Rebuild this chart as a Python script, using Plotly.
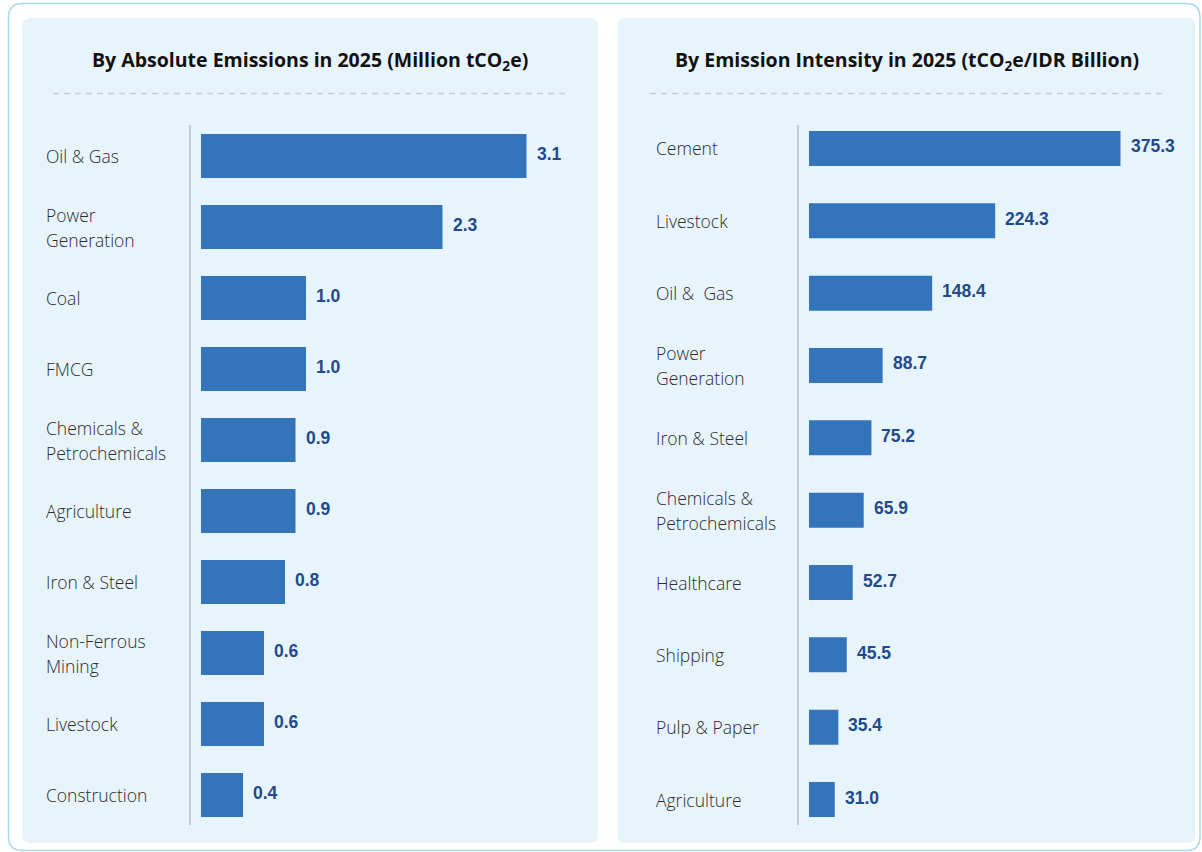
import plotly.graph_objects as go

# ---------------- data ----------------
abs_categories = ["Oil & Gas", "Power<br>Generation", "Coal", "FMCG",
                  "Chemicals &<br>Petrochemicals", "Agriculture", "Iron & Steel",
                  "Non-Ferrous<br>Mining", "Livestock", "Construction"]
abs_values = [3.1, 2.3, 1.0, 1.0, 0.9, 0.9, 0.8, 0.6, 0.6, 0.4]

int_categories = ["Cement", "Livestock", "Oil &\u00a0 Gas", "Power<br>Generation",
                  "Iron & Steel", "Chemicals &<br>Petrochemicals", "Healthcare",
                  "Shipping", "Pulp & Paper", "Agriculture"]
int_values = [375.3, 224.3, 148.4, 88.7, 75.2, 65.9, 52.7, 45.5, 35.4, 31.0]

title_left = "By Absolute Emissions in 2025 (Million tCO<sub>2</sub>e)"
title_right = "By Emission Intensity in 2025 (tCO<sub>2</sub>e/IDR Billion)"

# ---------------- layout helpers ----------------
W, H = 1202, 852
def px(x):
    return x / W
def py(y):
    return 1 - y / H

BAR = "#3374BB"
PANEL = "#E8F4FB"
LABEL_FONT = dict(family="Open Sans, Noto Sans, sans-serif", size=17.5, color="#2b2b2b", weight=300)
VALUE_FONT = dict(family="Liberation Sans, Arial, sans-serif", size=17.5, color="#1F4A8C", weight=700)
TITLE_FONT = dict(family="Open Sans, Noto Sans, sans-serif", size=19.5, color="#111111")

def rrect(x0, y0, x1, y1, r):
    X0, X1 = px(x0), px(x1)
    Y0, Y1 = py(y0), py(y1)
    rx, ry = r / W, r / H
    return (f"M {X0+rx},{Y0} L {X1-rx},{Y0} Q {X1},{Y0} {X1},{Y0-ry} "
            f"L {X1},{Y1+ry} Q {X1},{Y1} {X1-rx},{Y1} L {X0+rx},{Y1} "
            f"Q {X0},{Y1} {X0},{Y1+ry} L {X0},{Y0-ry} Q {X0},{Y0} {X0+rx},{Y0} Z")

fig = go.Figure()

fig.add_trace(go.Bar(x=abs_values, y=abs_categories, orientation="h",
                     marker=dict(color=BAR, line=dict(width=0)), width=0.62,
                     xaxis="x", yaxis="y", hoverinfo="x+y", showlegend=False))
fig.add_trace(go.Bar(x=int_values, y=int_categories, orientation="h",
                     marker=dict(color=BAR, line=dict(width=0)), width=0.484,
                     xaxis="x2", yaxis="y2", hoverinfo="x+y", showlegend=False))

shapes = []
# outer frame
shapes.append(dict(type="path", path=rrect(8.5, 3.5, 1200, 850.5, 14), xref="paper", yref="paper",
                   line=dict(color="#A9D9F1", width=1.5), fillcolor="white", layer="below"))
# panels
shapes.append(dict(type="path", path=rrect(22, 18, 598, 843, 8), xref="paper", yref="paper",
                   line=dict(width=0), fillcolor=PANEL, layer="below"))
shapes.append(dict(type="path", path=rrect(617.5, 18, 1195.5, 843, 8), xref="paper", yref="paper",
                   line=dict(width=0), fillcolor=PANEL, layer="below"))
# dashed separators
for x0, x1 in [(53, 567), (650, 1163)]:
    shapes.append(dict(type="line", xref="paper", yref="paper", x0=px(x0), x1=px(x1),
                       y0=py(93.5), y1=py(93.5), line=dict(color="#C9CBCD", width=1.5, dash="6px,5px"),
                       layer="below"))
# vertical axis lines
for xv in [190, 798]:
    shapes.append(dict(type="line", xref="paper", yref="paper", x0=px(xv), x1=px(xv),
                       y0=py(125), y1=py(825), line=dict(color="#BDBFC1", width=1.5), layer="below"))

annotations = []
annotations.append(dict(text=f"<b>{title_left}</b>", x=px(310), y=py(60), xref="paper", yref="paper",
                        xanchor="center", yanchor="middle", showarrow=False, font=TITLE_FONT))
annotations.append(dict(text=f"<b>{title_right}</b>", x=px(906.5), y=py(60), xref="paper", yref="paper",
                        xanchor="center", yanchor="middle", showarrow=False, font=TITLE_FONT))

def add_labels(cats, vals, label_x, xa, ya):
    for c, v in zip(cats, vals):
        lines = c.split("<br>")
        n = len(lines)
        for i, ln in enumerate(lines):
            shift = (((n - 1) / 2) - i) * 25
            annotations.append(dict(text=ln, x=px(label_x), xref="paper", y=c, yref=ya,
                                    xanchor="left", yanchor="middle", yshift=shift,
                                    showarrow=False, font=LABEL_FONT))
        annotations.append(dict(text=f"{v:.1f}", x=v, xref=xa, y=c, yref=ya,
                                xanchor="left", yanchor="middle", xshift=8, yshift=2,
                                showarrow=False, font=VALUE_FONT))

add_labels(abs_categories, abs_values, 43.5, "x", "y")
add_labels(int_categories, int_values, 654, "x2", "y2")

axis_off = dict(showgrid=False, zeroline=False, showline=False, showticklabels=False, ticks="",
                fixedrange=True)

fig.update_layout(
    width=W, height=H, margin=dict(l=0, r=0, t=0, b=0),
    paper_bgcolor="white", plot_bgcolor="rgba(0,0,0,0)",
    shapes=shapes, annotations=annotations, showlegend=False,
    xaxis=dict(domain=[px(201), px(580)], range=[0, 379 / 105], **axis_off),
    yaxis=dict(domain=[py(830.5), py(120.5)], type="category", categoryorder="array",
               categoryarray=abs_categories, range=[9.5, -0.5], **axis_off),
    xaxis2=dict(domain=[px(809), px(1180)], range=[0, 371 / 0.83], anchor="y2", **axis_off),
    yaxis2=dict(domain=[py(835.7), py(112.3)], type="category", categoryorder="array",
                categoryarray=int_categories, range=[9.5, -0.5], anchor="x2", **axis_off),
)

fig.write_html("out.html")
